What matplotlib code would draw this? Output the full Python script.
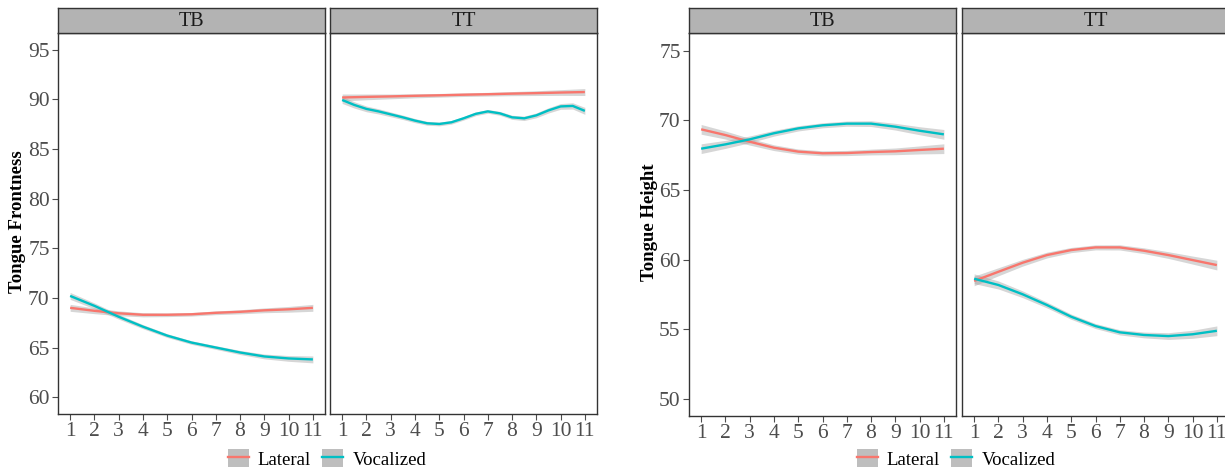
import numpy as np
import matplotlib
matplotlib.use("Agg")
import matplotlib.pyplot as plt
from matplotlib.patches import Patch
from matplotlib.lines import Line2D

plt.rcParams["font.family"] = ["Liberation Serif", "DejaVu Serif"]

# time points (normalised)
steps = [1, 2, 3, 4, 5, 6, 7, 8, 9, 10, 11]
steps_fine = [1, 1.5, 2, 2.5, 3, 3.5, 4, 4.5, 5, 5.5, 6, 6.5, 7, 7.5, 8, 8.5, 9, 9.5, 10, 10.5, 11]

# Tongue Frontness
front_tb_lateral = [69.0, 68.7, 68.45, 68.3, 68.3, 68.35, 68.5, 68.6, 68.75, 68.85, 69.0]
front_tb_vocal = [70.2, 69.2, 68.1, 67.1, 66.2, 65.5, 65.0, 64.5, 64.1, 63.9, 63.8]
front_tt_lateral = [90.2, 90.26, 90.31, 90.37, 90.42, 90.48, 90.53, 90.59, 90.64, 90.7, 90.75]
front_tt_vocal = [89.95, 89.45, 89.05, 88.8, 88.5, 88.2, 87.87, 87.6, 87.53, 87.7, 88.1,
                  88.55, 88.8, 88.6, 88.2, 88.1, 88.4, 88.9, 89.3, 89.35, 88.85]

# Tongue Height
height_tb_lateral = [69.35, 68.94, 68.46, 68.03, 67.75, 67.63, 67.65, 67.72, 67.77, 67.87, 67.96]
height_tb_vocal = [67.96, 68.27, 68.63, 69.07, 69.42, 69.64, 69.76, 69.76, 69.54, 69.25, 68.99]
height_tt_lateral = [58.46, 59.12, 59.77, 60.32, 60.68, 60.87, 60.87, 60.63, 60.32, 59.96, 59.6]
height_tt_vocal = [58.62, 58.17, 57.5, 56.73, 55.89, 55.22, 54.77, 54.58, 54.5, 54.63, 54.88]

# approximate half-width of the grey confidence ribbon
band_edge = 0.35
band_mid = 0.18

RED = "#F8766D"
CYAN = "#00BFC4"
TICK_GREY = "#4D4D4D"


def ribbon(x):
    x = np.asarray(x, float)
    mid = (x.min() + x.max()) / 2
    span = (x.max() - x.min()) / 2
    return band_mid + (band_edge - band_mid) * ((x - mid) / span) ** 2


def draw(ax, x, y, color):
    x = np.asarray(x, float); y = np.asarray(y, float)
    w = ribbon(x)
    ax.fill_between(x, y - w, y + w, color="#999999", alpha=0.4, lw=0)
    ax.plot(x, y, color=color, lw=1.7, solid_capstyle="butt")


def panel(fig, rect, title, ylim, yticks, show_y):
    ax = fig.add_axes(rect)
    ax.set_xlim(0.5, 11.5)
    ax.set_ylim(*ylim)
    ax.set_xticks(steps)
    ax.set_xticklabels([str(s) for s in steps])
    ax.set_yticks(yticks)
    ax.tick_params(axis="both", labelsize=15.5, colors=TICK_GREY, length=4, width=0.8,
                   labelcolor=TICK_GREY, pad=2)
    if not show_y:
        ax.tick_params(axis="y", left=False, labelleft=False)
    for s in ax.spines.values():
        s.set_color("#333333"); s.set_linewidth(1.0)
    # facet strip
    l, b, w, h = rect
    sh = 25 / 470
    st = fig.add_axes([l, b + h, w, sh])
    st.set_facecolor("#B3B3B3")
    st.set_xticks([]); st.set_yticks([])
    for s in st.spines.values():
        s.set_color("#333333"); s.set_linewidth(1.0)
    st.text(0.5, 0.45, title, ha="center", va="center", fontsize=14.5, color="#1A1A1A",
            transform=st.transAxes)
    return ax


fig = plt.figure(figsize=(12.25, 4.7), dpi=100)

H = 470
pw = 267 / 1225
# left figure: frontness
a1 = panel(fig, [58 / 1225, 56 / H, pw, 381 / H], "TB", (58.3, 96.7), [60, 65, 70, 75, 80, 85, 90, 95], True)
a2 = panel(fig, [330 / 1225, 56 / H, pw, 381 / H], "TT", (58.3, 96.7), [60, 65, 70, 75, 80, 85, 90, 95], False)
draw(a1, steps, front_tb_lateral, RED)
draw(a1, steps, front_tb_vocal, CYAN)
draw(a2, steps, front_tt_lateral, RED)
draw(a2, steps_fine, front_tt_vocal, CYAN)

# right figure: height
a3 = panel(fig, [689 / 1225, 54 / H, pw, 383 / H], "TB", (48.76, 76.27), [50, 55, 60, 65, 70, 75], True)
a4 = panel(fig, [962 / 1225, 54 / H, pw, 383 / H], "TT", (48.76, 76.27), [50, 55, 60, 65, 70, 75], False)
draw(a3, steps, height_tb_lateral, RED)
draw(a3, steps, height_tb_vocal, CYAN)
draw(a4, steps, height_tt_lateral, RED)
draw(a4, steps, height_tt_vocal, CYAN)

fig.text(18 / 1225, 1 - 222 / H, "Tongue Frontness", rotation=90, ha="center", va="center",
         fontsize=13.5, fontweight="bold")
fig.text(650 / 1225, 1 - 222 / H, "Tongue Height", rotation=90, ha="center", va="center",
         fontsize=13.5, fontweight="bold")

labels = ["Lateral", "Vocalized"]
handles = [(Patch(facecolor="#BEBEBE", edgecolor="none"), Line2D([], [], color=c, lw=1.7))
           for c in (RED, CYAN)]
for cx in (327 / 1225, 956 / 1225):
    fig.legend(handles, labels, loc="center", bbox_to_anchor=(cx, 1 - 459 / H), ncol=2,
               frameon=False, fontsize=13.5, handlelength=1.1, handleheight=1.1,
               handletextpad=0.5, columnspacing=0.6, borderpad=0)

fig.savefig("out.png", dpi=100)
